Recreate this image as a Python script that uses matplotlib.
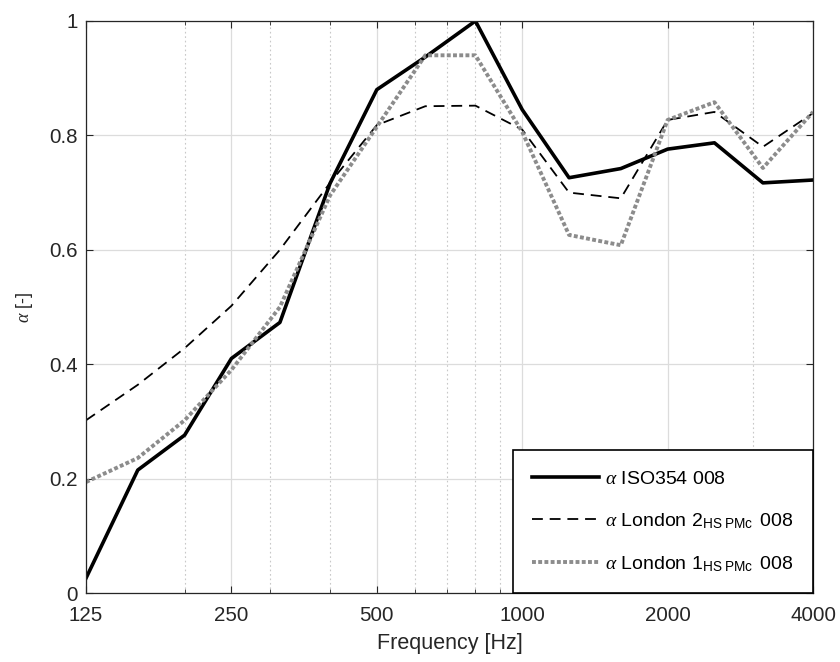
import matplotlib
matplotlib.use("Agg")
import matplotlib.pyplot as plt
from matplotlib.ticker import FixedLocator, FixedFormatter, LogLocator, NullFormatter

# Initial settings
plt.rcParams["font.family"] = ["Liberation Sans", "DejaVu Sans"]
plt.rcParams["mathtext.fontset"] = "custom"
plt.rcParams["mathtext.rm"] = "Liberation Sans"
plt.rcParams["mathtext.it"] = "Liberation Serif:italic"

# Data (third-octave bands)
freq = [125, 160, 200, 250, 315, 400, 500, 630, 800, 1000, 1250, 1600, 2000, 2500, 3150, 4000]
alpha_iso = [0.026, 0.215, 0.276, 0.41, 0.473, 0.716, 0.88, 0.937, 1.0, 0.845,
             0.726, 0.742, 0.776, 0.787, 0.717, 0.722]
alpha_lon2 = [0.302, 0.364, 0.428, 0.502, 0.600, 0.717, 0.818, 0.851, 0.852, 0.810,
              0.700, 0.690, 0.827, 0.841, 0.780, 0.839]
alpha_lon1 = [0.194, 0.236, 0.302, 0.390, 0.500, 0.695, 0.815, 0.940, 0.940, 0.806,
              0.626, 0.608, 0.827, 0.858, 0.743, 0.841]
labels = [r"$\alpha$ ISO354 008",
          r"$\alpha$ London 2$_{\mathrm{HS\ PMc}}\,$ 008",
          r"$\alpha$ London 1$_{\mathrm{HS\ PMc}}\,$ 008"]
xticks = [125, 250, 500, 1000, 2000, 4000]
yticks = [0, 0.2, 0.4, 0.6, 0.8, 1]

fig = plt.figure(figsize=(8.4, 6.62), dpi=100)
ax = fig.add_axes([0.1024, 0.1042, 0.8655, 0.8641])

ax.plot(freq, alpha_iso, "-", color="black", lw=2.6, label=labels[0])
ax.plot(freq, alpha_lon2, color="black", lw=1.3, dashes=(6, 3.8), label=labels[1])
ax.plot(freq, alpha_lon1, color="#8c8c8c", lw=2.8, dashes=(1.0, 0.6), label=labels[2])

ax.set_xscale("log")
ax.set_xlim(125, 4000)
ax.set_ylim(0, 1)
ax.xaxis.set_major_locator(FixedLocator(xticks))
ax.xaxis.set_major_formatter(FixedFormatter([str(t) for t in xticks]))
ax.xaxis.set_minor_locator(LogLocator(base=10, subs=range(2, 10)))
ax.xaxis.set_minor_formatter(NullFormatter())
ax.set_yticks(yticks)
ax.set_yticklabels(["0", "0.2", "0.4", "0.6", "0.8", "1"])

ax.grid(which="major", color="#dcdcdc", lw=0.9, ls="-")
ax.grid(which="minor", axis="x", color="#c8c8c8", lw=0.8, ls=(0, (1.5, 2.5)))
ax.set_axisbelow(True)

ax.tick_params(which="both", direction="in", top=True, right=True,
               labelsize=14.8, colors="#262626")
ax.tick_params(axis="x", pad=9)
ax.tick_params(axis="y", pad=6)
ax.tick_params(which="major", length=5, width=0.8)
ax.tick_params(which="minor", length=3, width=0.6)
for sp in ax.spines.values():
    sp.set_color("#262626")
    sp.set_linewidth(0.9)

ax.set_xlabel("Frequency [Hz]", fontsize=15.5, color="#262626", labelpad=6)
ax.set_ylabel(r"$\alpha$ [-]", fontsize=13, color="#262626", labelpad=10)

leg = ax.legend(loc="lower right", fontsize=14, frameon=True, fancybox=False,
                edgecolor="black", framealpha=1, borderaxespad=0,
                handlelength=3.45, handletextpad=0.3, labelspacing=1.2,
                borderpad=1.0)
leg.get_frame().set_linewidth(1.2)

fig.savefig("out.png", dpi=100)
